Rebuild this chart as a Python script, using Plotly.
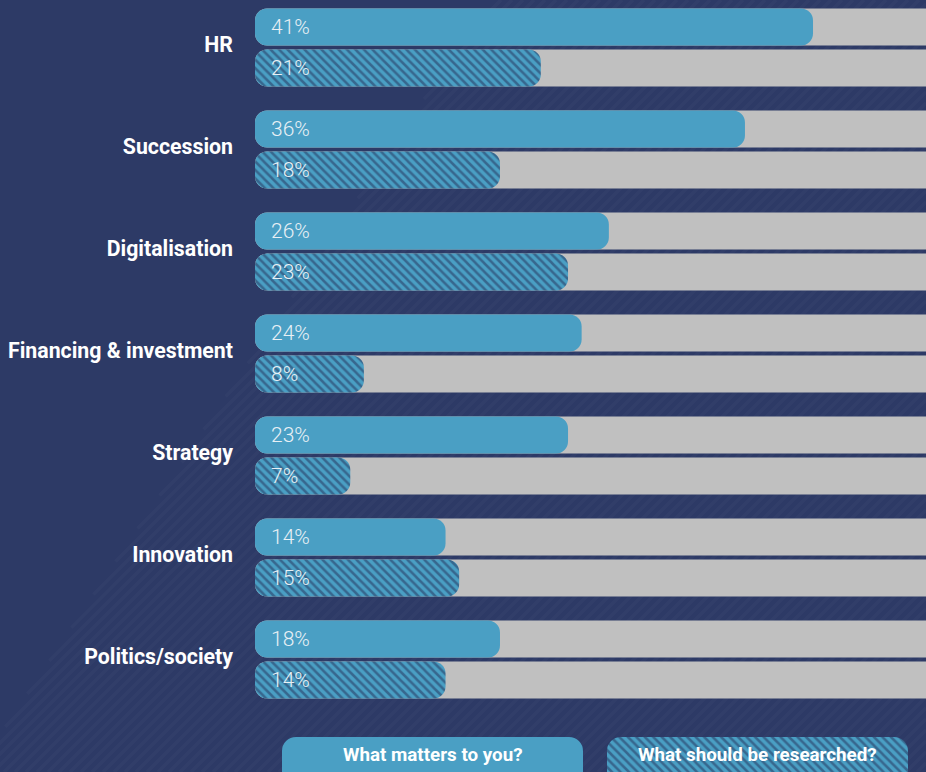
import plotly.graph_objects as go

# Survey results (share of respondents, %)
categories = ["HR", "Succession", "Digitalisation", "Financing & investment",
              "Strategy", "Innovation", "Politics/society"]
matters_to_you = [41, 36, 26, 24, 23, 14, 18]
should_be_researched = [21, 18, 23, 8, 7, 15, 14]
series_names = ["What matters to you?", "What should be researched?"]

W, H = 926, 772
NAVY = "#2d3a66"
BLUE = "#4a9fc4"
HATCH = "#243058"
TRACK = "#c0c0c0"
LABEL = "#e8f0f5"
RADIUS = 12

n = len(categories)
idx = list(range(n))
y_top = [i - 0.2 for i in idx]
y_bot = [i + 0.2 for i in idx]
bar_w = 0.363

hatch = dict(shape="\\", fgcolor=HATCH, bgcolor=BLUE, size=6, solidity=0.42)

fig = go.Figure()


def rounded_bar(y, starts, lengths, marker_extra=None, xaxis="x", yaxis="y",
                width=bar_w, r=RADIUS):
    """Horizontal bar with an explicit base, rounded at both ends."""
    m = dict(color=BLUE, line=dict(width=0), cornerradius=r)
    if marker_extra:
        m.update(marker_extra)
    fig.add_trace(go.Bar(
        orientation="h", y=y, base=starts, x=lengths,
        width=width, marker=m, xaxis=xaxis, yaxis=yaxis,
        hoverinfo="skip", showlegend=False))


# grey tracks spanning 0-100 %
rounded_bar(y_top + y_bot, [0] * (2 * n), [100] * (2 * n), dict(color=TRACK))

# answers
rounded_bar(y_top, [0] * n, matters_to_you)
rounded_bar(y_bot, [0] * n, should_be_researched, dict(pattern=hatch))

annotations = []
for y, v in list(zip(y_top, matters_to_you)) + list(zip(y_bot, should_be_researched)):
    annotations.append(dict(
        x=0, y=y, xref="x", yref="y", text=f"{v}%", showarrow=False,
        xanchor="left", yanchor="middle", xshift=14,
        font=dict(family="Roboto", size=21, color=LABEL, weight=300)))

# legend pills along the bottom edge
pill_left = [282, 607]
pill_len = 301
rounded_bar([0], [pill_left[0]], [pill_len], xaxis="x2", yaxis="y2", width=2, r=14)
rounded_bar([0], [pill_left[1]], [pill_len], dict(pattern=hatch),
            xaxis="x2", yaxis="y2", width=2, r=14)

for x0, name in zip(pill_left, series_names):
    annotations.append(dict(
        x=(x0 + pill_len / 2) / W, y=1 - 755 / H, xref="paper", yref="paper",
        text=f"<b>{name}</b>", showarrow=False, xanchor="center", yanchor="middle",
        font=dict(family="Roboto", size=18.8, color="white")))

# faint diagonal stripes in the background
shapes = []
bx0, slope = 490.0, 0.667
c = bx0
while c < W + H:
    y_lo = max(0.0, c - W)
    y_hi = min(float(H), (c - bx0) / (1 - slope))
    if y_hi > y_lo:
        shapes.append(dict(
            type="line", xref="paper", yref="paper", layer="below",
            x0=(c - y_hi) / W, y0=1 - y_hi / H, x1=(c - y_lo) / W, y1=1 - y_lo / H,
            line=dict(color="rgba(255,255,255,0.025)", width=3.5)))
    c += 11

fig.update_layout(
    width=W, height=H,
    margin=dict(l=0, r=0, t=0, b=0),
    paper_bgcolor=NAVY, plot_bgcolor="rgba(0,0,0,0)",
    barmode="overlay",
    showlegend=False,
    annotations=annotations,
    shapes=shapes,
    xaxis=dict(domain=[255 / W, 1], range=[0, (W - 255) / 13.61], visible=False,
               fixedrange=True),
    yaxis=dict(domain=[0, 1], range=[(H - 47.5) / 102, -47.5 / 102],
               tickvals=[i - 0.03 for i in idx],
               ticktext=[f"<b>{c}</b>" for c in categories],
               tickfont=dict(family="Roboto", size=21.3, color="white"),
               ticks="", ticklabelstandoff=21, showgrid=False, zeroline=False,
               showline=False, fixedrange=True),
    xaxis2=dict(domain=[0, 1], range=[0, W], visible=False, anchor="y2", fixedrange=True),
    yaxis2=dict(domain=[0, 35 / H], range=[-0.2, 1], visible=False, anchor="x2",
                fixedrange=True),
)

fig.write_html("out.html")
